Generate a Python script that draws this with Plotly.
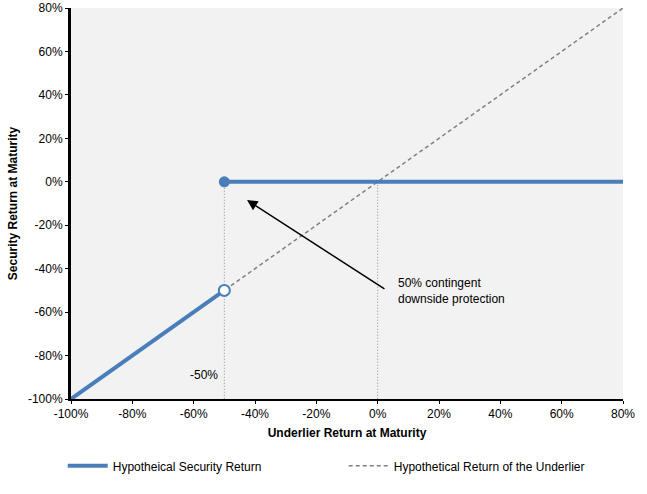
import plotly.graph_objects as go

# underlier return vs security return (fractions)
under_x = [-1.0, 0.8]
under_y = [-1.0, 0.8]
sec_low_x = [-1.0, -0.5]
sec_low_y = [-1.0, -0.5]
sec_high_x = [-0.5, 0.8]
sec_high_y = [0.0, 0.0]
barrier = -0.5
ticks = [-1.0, -0.8, -0.6, -0.4, -0.2, 0.0, 0.2, 0.4, 0.6, 0.8]
tick_labels = ['-100%', '-80%', '-60%', '-40%', '-20%', '0%', '20%', '40%', '60%', '80%']

blue = '#4a7ebb'
grey = '#808080'
font = 'Liberation Sans Narrow, Arial Narrow, Liberation Sans, Arial'

fig = go.Figure()

# dotted guide lines
fig.add_trace(go.Scatter(x=[barrier, barrier], y=[0.0, -1.0], mode='lines',
                         line=dict(color='#8c8c8c', width=1, dash='1px,2px'),
                         showlegend=False, hoverinfo='skip'))
fig.add_trace(go.Scatter(x=[0.0, 0.0], y=[0.0, -1.0], mode='lines',
                         line=dict(color='#8c8c8c', width=1, dash='1px,2px'),
                         showlegend=False, hoverinfo='skip'))

fig.add_trace(go.Scatter(x=under_x, y=under_y, mode='lines',
                         name='Hypothetical Return of the Underlier',
                         line=dict(color=grey, width=1.5, dash='4px,3px')))

fig.add_trace(go.Scatter(x=sec_low_x, y=sec_low_y, mode='lines',
                         name='Hypotheical Security Return',
                         line=dict(color=blue, width=4)))
fig.add_trace(go.Scatter(x=sec_high_x, y=sec_high_y, mode='lines',
                         line=dict(color=blue, width=4), showlegend=False))
fig.add_trace(go.Scatter(x=[sec_low_x[1]], y=[sec_low_y[1]], mode='markers',
                         marker=dict(color='white', size=11,
                                     line=dict(color=blue, width=2)),
                         showlegend=False))
fig.add_trace(go.Scatter(x=[sec_high_x[0]], y=[sec_high_y[0]], mode='markers',
                         marker=dict(color=blue, size=11), showlegend=False))

fig.add_annotation(x=-0.515, y=-0.89, xref='x', yref='y', text='-50%',
                   showarrow=False, xanchor='right', yanchor='middle',
                   font=dict(size=12, color='black', family=font))
fig.add_annotation(x=0.06, y=-0.503, xref='x', yref='y',
                   text='50% contingent<br>downside protection',
                   showarrow=False, xanchor='left', yanchor='middle', align='left',
                   font=dict(size=12, color='black', family=font))
fig.add_annotation(x=-0.426, y=-0.084, ax=0.027, ay=-0.498,
                   xref='x', yref='y', axref='x', ayref='y', text='',
                   showarrow=True, arrowhead=2, arrowsize=1.4, arrowwidth=1.5,
                   arrowcolor='black')

fig.update_layout(
    width=647, height=494,
    margin=dict(l=71, r=24, t=8, b=95, autoexpand=False),
    paper_bgcolor='white', plot_bgcolor='#f2f2f2',
    font=dict(family=font, size=12, color='black'),
    legend=dict(orientation='h', x=-0.015, xanchor='left', y=-0.171, yanchor='middle',
                font=dict(size=12, family=font), traceorder='reversed',
                itemwidth=40, entrywidthmode='pixels', entrywidth=226),
)
fig.update_xaxes(range=[-1.0, 0.8], tickvals=ticks, ticktext=tick_labels,
                 showgrid=False, zeroline=False, showline=True, linecolor='black',
                 linewidth=2, ticks='outside', ticklen=3, tickcolor='black',
                 title=dict(text='<b>Underlier Return at Maturity</b>', standoff=8,
                            font=dict(size=12)))
fig.update_yaxes(range=[-1.0, 0.8], tickvals=ticks, ticktext=tick_labels,
                 showgrid=False, zeroline=False, showline=True, linecolor='black',
                 linewidth=3, ticks='outside', ticklen=3, tickcolor='black',
                 title=dict(text='<b>Security Return at Maturity</b>', standoff=8,
                            font=dict(size=12)))

# drop the default page margin so the figure sits at the window's corner
fig.write_html('out.html', config={'displayModeBar': False},
               post_script="document.body.style.margin = '0px';")
